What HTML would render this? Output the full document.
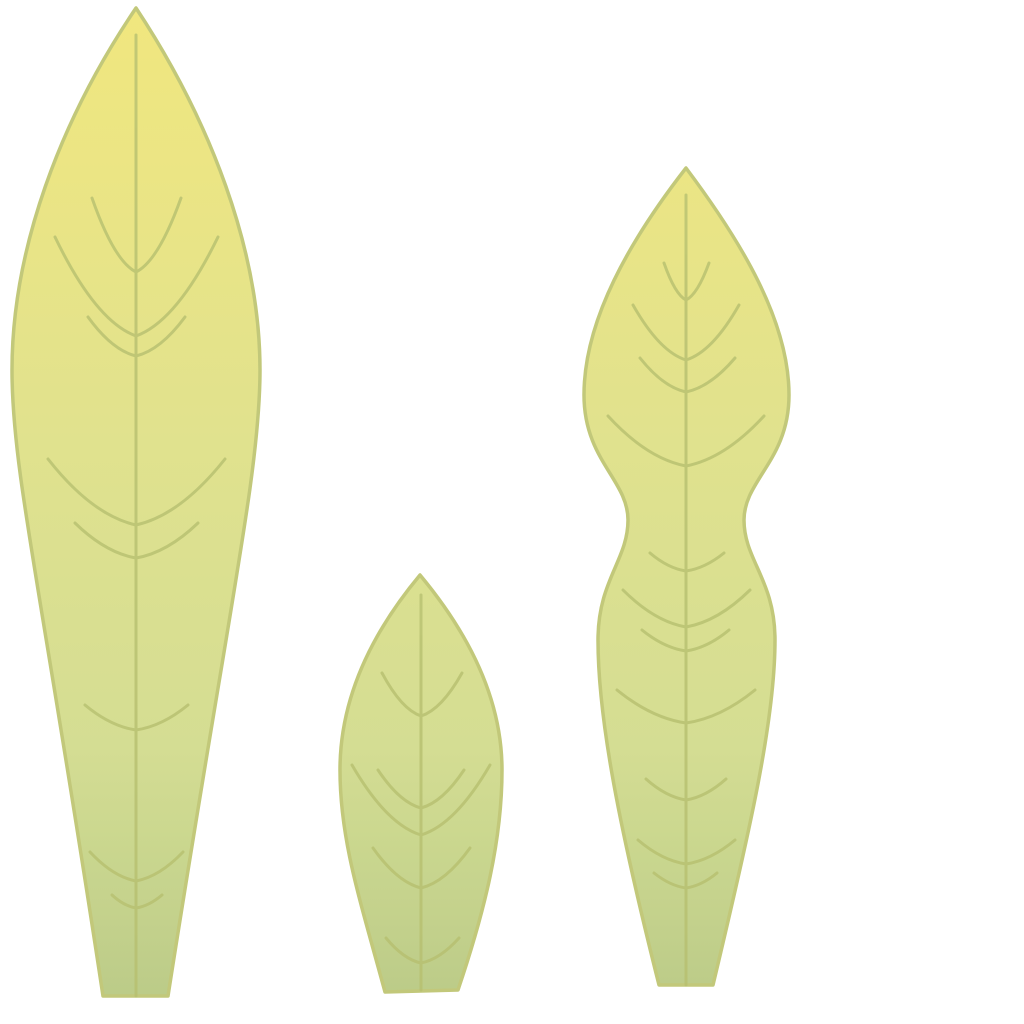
<!DOCTYPE html>
<html><head><meta charset="utf-8"><style>
html,body{margin:0;padding:0;background:#fff;}
svg{display:block;}
</style></head><body>
<svg id="art" width="1024" height="1024" viewBox="0 0 1024 1024" xmlns="http://www.w3.org/2000/svg">
<defs>
<linearGradient id="g" gradientUnits="userSpaceOnUse" x1="0" y1="0" x2="0" y2="1000">
<stop offset="0" stop-color="#f1e678"/>
<stop offset="0.5" stop-color="#dde08a"/>
<stop offset="0.75" stop-color="#d2dc8e"/>
<stop offset="1" stop-color="#b8c982"/>
</linearGradient>
</defs>
<g fill="url(#g)" stroke="#bfc673" stroke-width="3.5" stroke-linejoin="round" opacity="0.95">
<path d="M136,8 C60,120 12,250 12,370 C12,470 40,580 103,996 L168,996 C230,600 260,470 260,370 C260,250 210,120 136,8 Z"/>
<path d="M420,575 C370,635 340,700 340,770 C340,840 360,900 385,992 L458,990 C485,910 502,840 502,770 C502,700 470,635 420,575 Z"/>
<path d="M686,168 C630,240 584,320 584,395 C584,460 628,480 628,520 C628,560 598,580 598,640 C598,720 620,830 659,985 L713,985 C750,830 775,720 775,640 C775,580 744,560 744,520 C744,480 789,460 789,395 C789,320 740,240 686,168 Z"/>
</g>
<g id="veins" fill="none" stroke="#b7c070" stroke-width="3" stroke-linecap="round" opacity="0.8"></g>
</svg>
<script>
const midribs = [[136,35,136,996],[421,595,421,990],[686,195,686,985]];
const veinVertex = [
[136,272,92,181,198],[136,336,55,218,237],[136,356,88,185,317],[136,525,48,225,459],[136,558,75,198,523],[136,730,85,188,705],[136,881,90,183,852],[136,908,112,162,895],
[421,716,382,462,673],[421,808,378,464,770],[421,835,352,490,765],[421,888,373,470,848],[421,963,386,459,938],
[686,300,664,709,263],[686,360,633,739,305],[686,392,640,735,358],[686,466,608,764,416],[686,571,650,724,553],[686,627,623,750,590],[686,651,642,729,630],[686,723,617,755,690],[686,800,646,726,779],[686,864,638,735,840],[686,888,654,717,873]
];
const ns='http://www.w3.org/2000/svg';
const g=document.getElementById('veins');
midribs.forEach(m=>{
  const l=document.createElementNS(ns,'line');
  l.setAttribute('x1',m[0]);l.setAttribute('y1',m[1]);l.setAttribute('x2',m[2]);l.setAttribute('y2',m[3]);
  
  
  g.appendChild(l);
});
veinVertex.forEach(v=>{
  const [vx,vy,lx,rx,ty]=v;
  [lx,rx].forEach(tx=>{
    const p=document.createElementNS(ns,'path');
    const cx=(tx+vx)/2, cy=vy-(vy-ty)*0.15;
    p.setAttribute('d',`M${tx},${ty} Q${cx},${cy} ${vx},${vy}`);
    
    
    g.appendChild(p);
  });
});
</script>
</body></html>
